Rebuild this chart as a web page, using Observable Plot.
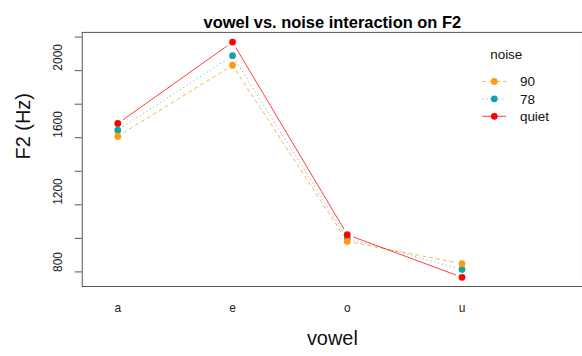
<!DOCTYPE html>
<html>
<head>
<meta charset="utf-8">
<script src="https://cdn.jsdelivr.net/npm/d3@7"></script>
<script src="https://cdn.jsdelivr.net/npm/@observablehq/plot@0.6"></script>
<style>
  html, body { margin: 0; padding: 0; background: #fff; overflow: hidden; }
  #chart { width: 582px; height: 356px; overflow: hidden; }
</style>
</head>
<body>
<div id="chart"></div>
<script>
// ---- data ----
const vowels = ["a", "e", "o", "u"];
const drawOrder = ["78", "90", "quiet"];
const legendOrder = ["90", "78", "quiet"];
const f2_78 = [1645, 2089, 1000, 815];
const f2_90 = [1608, 2032, 982, 849];
const f2_quiet = [1685, 2170, 1022, 768];
const yTicks = [800, 1000, 1200, 1400, 1600, 1800, 2000, 2200];
const yTickLabels = [800, 1200, 1600, 2000];
const title = "vowel vs. noise interaction on F2";
const xLabel = "vowel";
const yLabel = "F2 (Hz)";
const legendTitle = "noise";

// ---- styles ----
const values = {"78": f2_78, "90": f2_90, "quiet": f2_quiet};
const colors = {"90": "#FF9A0E", "78": "#15A2AC", "quiet": "#FF0000"};
const dashes = {"90": "4,3", "78": "1,3", "quiet": "none"};
const font = "'Liberation Sans', Arial, Helvetica, sans-serif";

const points = s => values[s].map((v, i) => ({s, x: i + 1, y: v}));
const segments = s => d3.pairs(points(s)).map(([a, b]) => ({s, x1: a.x, y1: a.y, x2: b.x, y2: b.y}));

const marks = [
  Plot.frame({stroke: "#555", strokeWidth: 1}),
  Plot.axisY({ticks: yTicks, tickSize: 7, tickFormat: () => "", label: null, stroke: "#555"}),
  Plot.text(yTickLabels, {y: d => d, text: d => String(d), frameAnchor: "left", dx: -24, rotate: -90, fontSize: 12, fill: "#222"}),
  Plot.text(vowels, {x: (d, i) => i + 1, text: d => d, frameAnchor: "bottom", dy: 25.6, fontSize: 12, fill: "#222"}),
  Plot.text([xLabel], {text: d => d, frameAnchor: "bottom", dy: 58.3, fontSize: 20, fill: "#111"}),
  Plot.text([yLabel], {text: d => d, frameAnchor: "left", dx: -58.7, rotate: -90, fontSize: 20, fill: "#111"}),
  Plot.text([title], {text: d => d, frameAnchor: "top", dy: -15.8, fontSize: 16.5, fontWeight: "bold", fill: "#000"})
];
for (const s of drawOrder) {
  marks.push(Plot.arrow(segments(s), {
    x1: "x1", y1: "y1", x2: "x2", y2: "y2",
    stroke: colors[s], strokeWidth: 0.9, strokeOpacity: 0.85, strokeDasharray: dashes[s],
    headLength: 0, insetStart: 6.5, insetEnd: 6.5, strokeLinecap: "butt"
  }));
}
for (const s of drawOrder) {
  marks.push(Plot.dot(points(s), {x: "x", y: "y", r: 3.4, fill: colors[s], stroke: "none"}));
}

const chart = Plot.plot({
  width: 584,
  height: 356,
  marginLeft: 82,
  marginRight: 0,
  marginTop: 32,
  marginBottom: 69,
  x: {domain: [0.69, 5.05], axis: null},
  y: {domain: [713, 2228]},
  style: {fontFamily: font, background: "#fff", color: "#222"},
  marks
});

// ---- legend (layout only) ----
const svg = d3.select(chart);
const lg = svg.append("g").attr("font-family", font).attr("font-size", 13.5);
lg.append("text").attr("x", 508).attr("y", 59).attr("text-anchor", "middle").attr("fill", "#111").text(legendTitle);
legendOrder.forEach((s, i) => {
  const cy = 81.7 + i * 17.5;
  lg.append("line").attr("x1", 484).attr("x2", 508).attr("y1", cy).attr("y2", cy)
    .attr("stroke", colors[s]).attr("stroke-width", 0.9).attr("stroke-opacity", 0.85)
    .attr("stroke-dasharray", dashes[s]);
  lg.append("circle").attr("cx", 496).attr("cy", cy).attr("r", 3.4).attr("fill", colors[s]);
  lg.append("text").attr("x", 521.7).attr("y", cy + 4.9).attr("text-anchor", "start").attr("fill", "#111").text(s);
});

document.getElementById("chart").appendChild(chart);
</script>
</body>
</html>
